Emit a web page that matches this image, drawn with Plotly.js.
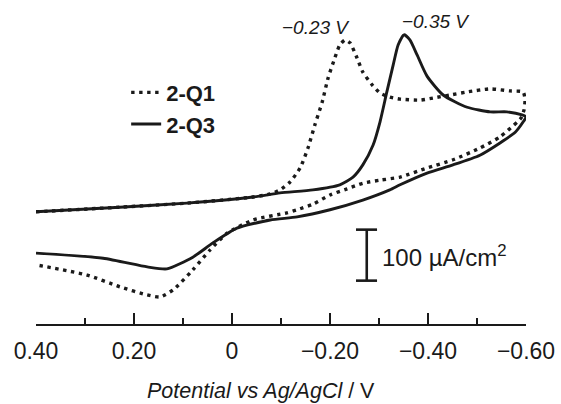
<!DOCTYPE html>
<html>
<head>
<meta charset="utf-8">
<script src="https://cdn.plot.ly/plotly-3.0.1.min.js"></script>
<style>
html,body{margin:0;padding:0;background:#fff;}
#chart{width:561px;height:404px;}
</style>
</head>
<body>
<div id="chart"></div>
<script>
// Potential (V vs Ag/AgCl) and current density (µA/cm², arbitrary zero)
const q1Potential = [0.40,0.229,0.092,-0.043,-0.078,-0.098,-0.118,-0.139,-0.155,-0.169,-0.184,-0.196,-0.210,-0.220,-0.231,-0.241,-0.255,-0.267,-0.286,-0.302,-0.322,-0.343,-0.384,-0.410,-0.445,-0.480,-0.527,-0.567,-0.594,-0.598,-0.596,-0.590,
  -0.582,-0.547,-0.506,-0.451,-0.398,-0.343,-0.302,-0.267,-0.235,-0.200,-0.165,-0.133,-0.112,-0.043,0.010,0.045,0.080,0.120,0.147,0.173,0.229,0.296,0.40];
const q1Current = [20,29,37,49,55,63,78,106,145,190,235,282,322,347,357,351,322,294,269,253,245,241,239,243,249,255,261,257,255,240,220,204,
  196,167,145,122,106,88,82,76,65,53,35,24,18,4,-22,-55,-94,-133,-147,-143,-127,-104,-84];

const q3Potential = [0.40,0.229,0.092,-0.043,-0.098,-0.165,-0.220,-0.247,-0.267,-0.288,-0.302,-0.316,-0.329,-0.339,-0.351,-0.363,-0.378,-0.398,-0.431,-0.480,-0.527,-0.561,-0.592,-0.600,
  -0.594,-0.578,-0.547,-0.506,-0.451,-0.398,-0.343,-0.322,-0.267,-0.200,-0.133,-0.078,-0.010,0.039,0.080,0.133,0.173,0.263,0.40];
const q3Current = [20,29,37,49,57,63,73,88,112,151,196,255,308,347,367,357,327,286,249,225,216,216,210,206,
  196,176,155,131,112,96,73,63,43,24,10,4,-12,-41,-69,-92,-88,-71,-61];

const seriesNames = ['2-Q1','2-Q3'];
const tickValues = [0.40,0.20,0,-0.20,-0.40,-0.60];
const tickLabels = ['0.40','0.20','0','\u22120.20','\u22120.40','\u22120.60'];
const peakLabels = ['\u22120.23 V','\u22120.35 V'];
const peakLabelPos = [[-0.171,382],[-0.416,394]];
const scaleBarLabel = '100 \u00B5A/cm<sup>2</sup>';
const axisTitle = '<i>Potential vs Ag/AgCl</i> / V';

const fontFam = 'Arial, "Liberation Sans", Helvetica, sans-serif';
const ink = '#1a1a1a';

const traces = [
  {x:q1Potential, y:q1Current, name:seriesNames[0], mode:'lines',
   line:{color:ink, width:3.4, dash:'3.4px,4.6px', shape:'spline', smoothing:0.6}},
  {x:q3Potential, y:q3Current, name:seriesNames[1], mode:'lines',
   line:{color:ink, width:2.9, shape:'spline', smoothing:0.6}}
];

const layout = {
  width:561, height:404,
  margin:{l:36, r:35, t:18, b:80},
  paper_bgcolor:'#fff', plot_bgcolor:'#fff',
  font:{family:fontFam, color:ink, size:21},
  showlegend:true,
  legend:{x:0.184, y:0.825, xanchor:'left', yanchor:'top', bgcolor:'rgba(0,0,0,0)',
          font:{family:fontFam, size:22, weight:'bold', color:ink}, itemwidth:30, tracegroupgap:0},
  xaxis:{
    range:[0.40,-0.60], autorange:false,
    tickmode:'array', tickvals:tickValues, ticktext:tickLabels,
    ticks:'inside', ticklen:11, tickwidth:2, tickcolor:ink,
    minor:{dtick:0.1, tick0:0, ticks:'inside', ticklen:6, tickwidth:2, tickcolor:ink},
    showline:true, linecolor:ink, linewidth:2,
    showgrid:false, zeroline:false,
    ticklabelstandoff:5,
    tickfont:{family:fontFam, size:23, color:ink}
  },
  yaxis:{range:[-200,400], autorange:false, visible:false, showgrid:false, zeroline:false},
  shapes:[
    {type:'line', xref:'x', yref:'y', x0:-0.275, x1:-0.275, y0:-15, y1:-115, line:{color:ink, width:2.6}},
    {type:'line', xref:'x', yref:'y', x0:-0.253, x1:-0.296, y0:-15, y1:-15, line:{color:ink, width:2.6}},
    {type:'line', xref:'x', yref:'y', x0:-0.253, x1:-0.296, y0:-115, y1:-115, line:{color:ink, width:2.6}}
  ],
  annotations:[
    {x:peakLabelPos[0][0], y:peakLabelPos[0][1], xref:'x', yref:'y', text:'<i>'+peakLabels[0]+'</i>', showarrow:false, font:{size:19}},
    {x:peakLabelPos[1][0], y:peakLabelPos[1][1], xref:'x', yref:'y', text:'<i>'+peakLabels[1]+'</i>', showarrow:false, font:{size:19}},
    {x:-0.303, y:-66, xref:'x', yref:'y', xanchor:'left', text:scaleBarLabel, showarrow:false, font:{size:24}},
    {x:0.222, y:-0.218, xref:'paper', yref:'paper', xanchor:'left', yanchor:'middle', text:axisTitle, showarrow:false, font:{size:21.5}}
  ]
};

Plotly.newPlot('chart', traces, layout, {displayModeBar:false, staticPlot:true});
</script>
</body>
</html>
